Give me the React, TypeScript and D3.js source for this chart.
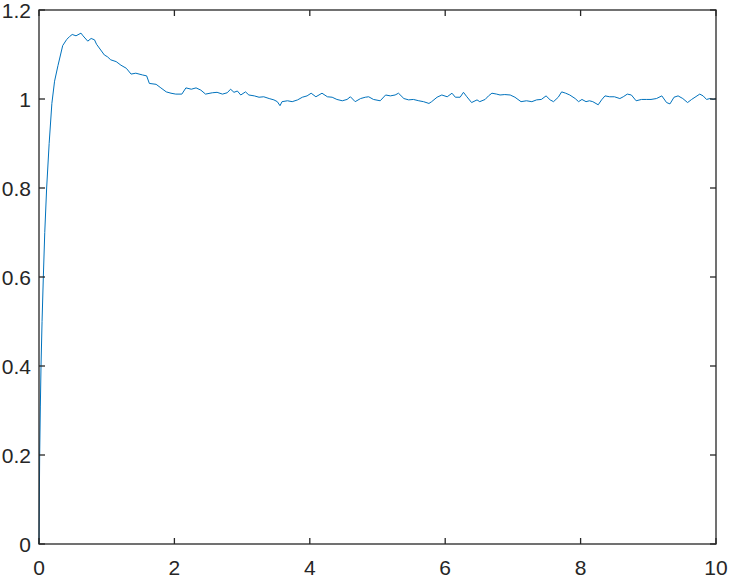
import React from "react";
import * as d3 from "d3";

const times = [
    0, 0.01, 0.02, 0.03, 0.045, 0.064, 0.085, 0.113, 0.15, 0.19, 0.23, 0.28, 0.35, 0.41, 0.45, 0.49,
    0.547, 0.62, 0.65, 0.72, 0.77, 0.82, 0.85, 0.965, 1.01, 1.06, 1.14, 1.21, 1.29, 1.36, 1.43, 1.53,
    1.59, 1.63, 1.73, 1.80, 1.88, 1.95, 2.02, 2.11, 2.17, 2.25, 2.32, 2.39, 2.46, 2.56, 2.63, 2.71,
    2.78, 2.83, 2.88, 2.93, 2.98, 3.05, 3.10, 3.18, 3.25, 3.32, 3.40, 3.47, 3.52, 3.56, 3.59, 3.67,
    3.74, 3.82, 3.89, 3.96, 4.02, 4.09, 4.18, 4.26, 4.33, 4.40, 4.48, 4.55, 4.60, 4.67, 4.75, 4.82,
    4.87, 4.94, 5.04, 5.12, 5.19, 5.26, 5.31, 5.39, 5.46, 5.53, 5.61, 5.68, 5.76, 5.80, 5.88, 5.95,
    6.03, 6.10, 6.15, 6.22, 6.27, 6.32, 6.39, 6.47, 6.51, 6.59, 6.64, 6.69, 6.76, 6.81, 6.88, 6.96,
    7.03, 7.12, 7.20, 7.28, 7.35, 7.42, 7.49, 7.55, 7.60, 7.67, 7.72, 7.78, 7.84, 7.92, 7.97, 8.02,
    8.08, 8.13, 8.18, 8.26, 8.31, 8.36, 8.43, 8.50, 8.58, 8.63, 8.69, 8.75, 8.82, 8.90, 8.97, 9.04,
    9.12, 9.20, 9.27, 9.32, 9.38, 9.44, 9.51, 9.58, 9.64, 9.69, 9.76, 9.81, 9.86, 9.91, 9.96, 10
];

const response = [
    0, 0.2, 0.31, 0.4, 0.5, 0.6, 0.7, 0.8, 0.9, 0.99, 1.04, 1.075, 1.12, 1.134, 1.14, 1.145,
    1.142, 1.148, 1.142, 1.130, 1.136, 1.133, 1.123, 1.099, 1.095, 1.088, 1.084, 1.076, 1.069, 1.056, 1.058, 1.054,
    1.052, 1.035, 1.033, 1.025, 1.016, 1.013, 1.011, 1.011, 1.025, 1.022, 1.025, 1.020, 1.011, 1.014, 1.015, 1.011,
    1.014, 1.022, 1.015, 1.018, 1.009, 1.016, 1.009, 1.007, 1.004, 1.005, 1.001, 0.998, 0.994, 0.985, 0.994, 0.996,
    0.994, 0.998, 1.004, 1.007, 1.013, 1.005, 1.013, 1.005, 1.004, 0.999, 0.996, 0.999, 1.005, 0.994, 1.001, 1.004,
    1.005, 0.999, 0.996, 1.009, 1.007, 1.009, 1.013, 1.001, 0.998, 0.999, 0.996, 0.994, 0.990, 0.994, 1.004, 1.009,
    1.005, 1.013, 1.004, 1.004, 1.015, 1.005, 0.992, 0.998, 0.994, 0.999, 1.007, 1.013, 1.011, 1.009, 1.010, 1.009,
    1.004, 0.994, 0.996, 0.994, 0.998, 0.999, 1.007, 0.998, 0.994, 1.004, 1.016, 1.013, 1.009, 1.001, 0.994, 0.999,
    0.994, 0.996, 0.994, 0.987, 0.998, 1.007, 1.005, 1.005, 1.001, 1.005, 1.011, 1.009, 0.996, 0.999, 0.999, 0.999,
    1.001, 1.007, 0.992, 0.989, 1.004, 1.007, 1.001, 0.992, 0.999, 1.004, 1.011, 1.007, 0.999, 1.001, 0.999, 1.001
];

const xTicks = [0, 2, 4, 6, 8, 10];
const yTicks = [0, 0.2, 0.4, 0.6, 0.8, 1, 1.2];

const App = () => {
    const width = 730;
    const height = 577;
    const left = 39, right = 716, top = 10, bottom = 544;
    const tickLen = 6;
    const axisColor = "#262626";

    const x = d3.scaleLinear().domain([0, 10]).range([left, right]);
    const y = d3.scaleLinear().domain([0, 1.2]).range([bottom, top]);

    const points: [number, number][] = times.map((t, i) => [t, response[i]]);
    const line = d3
    .line<[number, number]>()
    .x(d => x(d[0]))
    .y(d => y(d[1]));

    const font = {fontFamily: "'Liberation Sans', Arial, sans-serif", fontSize: "21px", fill: axisColor};

    return (
        <svg width={width} height={height} style={{position: "absolute", left: 0, top: 0, background: "#fff"}}>
            <rect x={0} y={0} width={width} height={height} fill="#fff"/>
            <path d={line(points) || ""} fill="none" stroke="#0072BD" strokeWidth={1}/>
            <g stroke={axisColor} strokeWidth={1.3}>
                <rect x={left} y={top} width={right - left} height={bottom - top} fill="none"/>
                {xTicks.map(t => (
                    <g key={"x" + t}>
                        <line x1={x(t)} x2={x(t)} y1={bottom} y2={bottom - tickLen}/>
                        <line x1={x(t)} x2={x(t)} y1={top} y2={top + tickLen}/>
                    </g>
                ))}
                {yTicks.map(t => (
                    <g key={"y" + t}>
                        <line x1={left} x2={left + tickLen} y1={y(t)} y2={y(t)}/>
                        <line x1={right} x2={right - tickLen} y1={y(t)} y2={y(t)}/>
                    </g>
                ))}
            </g>
            {xTicks.map(t => (
                <text key={"xl" + t} x={x(t)} y={574.5} textAnchor="middle" style={font}>{t}</text>
            ))}
            {yTicks.map(t => (
                <text key={"yl" + t} x={31} y={y(t) + 7.5} textAnchor="end" style={font}>{t}</text>
            ))}
        </svg>
    );
};

export default App;
